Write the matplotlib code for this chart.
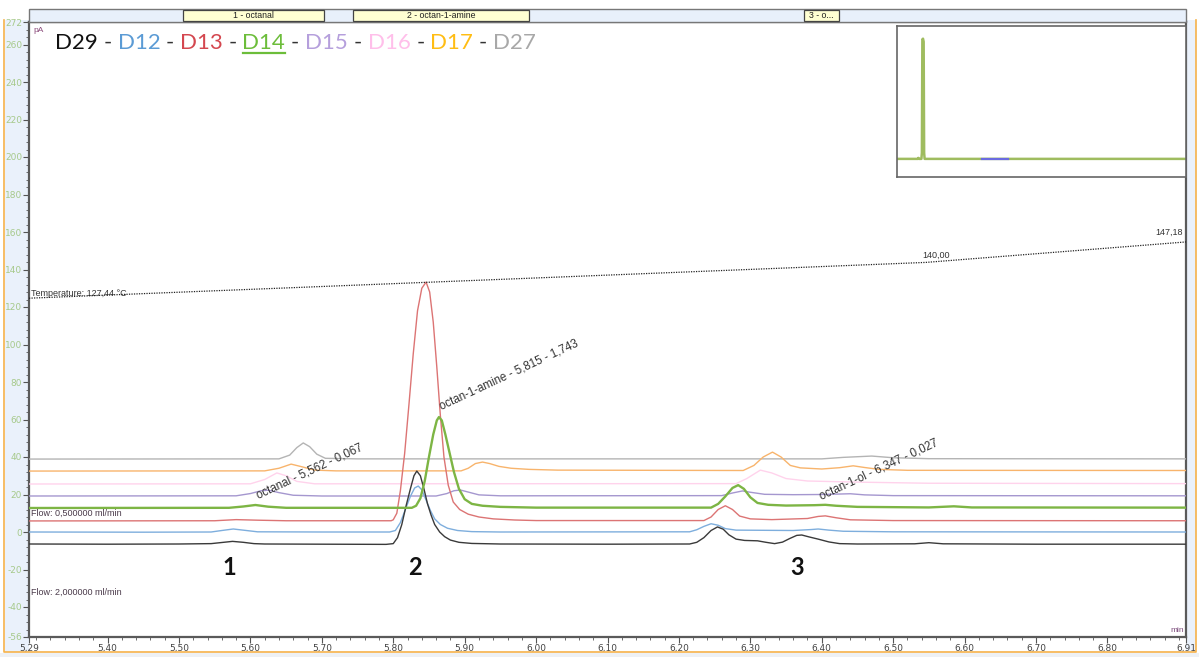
import numpy as np
import matplotlib
matplotlib.use("Agg")
import matplotlib.pyplot as plt
import matplotlib.transforms as mtrans
from matplotlib.ticker import MultipleLocator, FixedLocator, FuncFormatter
from matplotlib.patches import Rectangle
from matplotlib.lines import Line2D

# trace data: (time [min], signal [pA])
d29 = [(5.29, -6.4), (5.40, -6.5), (5.50, -6.4), (5.545, -6.2), (5.560, -5.6), (5.575, -5.0), (5.590, -5.5),
       (5.605, -6.2), (5.62, -6.4), (5.70, -6.5), (5.79, -6.6), (5.800, -6.2), (5.806, -3), (5.812, 4),
       (5.818, 14), (5.824, 23), (5.829, 30), (5.833, 32.5), (5.838, 30), (5.843, 23), (5.848, 15),
       (5.853, 9), (5.858, 4), (5.865, 0), (5.872, -2.5), (5.880, -4.3), (5.892, -5.5), (5.91, -6.1),
       (5.95, -6.4), (6.10, -6.5), (6.215, -6.4), (6.225, -5.5), (6.235, -3), (6.245, 0.8), (6.254, 2.7),
       (6.262, 1.5), (6.270, -1.5), (6.280, -3.8), (6.292, -4.5), (6.31, -4.7), (6.322, -5.5),
       (6.334, -6.2), (6.345, -5.4), (6.355, -3.5), (6.365, -1.8), (6.372, -1.6), (6.382, -2.6),
       (6.395, -3.8), (6.410, -5.3), (6.425, -6.2), (6.45, -6.4), (6.53, -6.3), (6.55, -5.7),
       (6.57, -6.3), (6.70, -6.5), (6.91, -6.5)]
d12 = [(5.29, 0), (5.45, -0.1), (5.545, 0), (5.560, 0.8), (5.576, 1.6), (5.592, 0.9), (5.61, 0.1),
       (5.70, 0), (5.795, 0), (5.803, 0.8), (5.810, 5), (5.817, 12), (5.824, 19), (5.830, 23.5),
       (5.835, 24.5), (5.840, 22.5), (5.846, 17), (5.852, 11.5), (5.858, 7), (5.866, 4), (5.876, 2),
       (5.89, 0.8), (5.91, 0.2), (5.95, 0), (6.215, 0.1), (6.225, 1.2), (6.235, 3), (6.245, 4.4),
       (6.255, 3.6), (6.265, 1.8), (6.28, 1.0), (6.32, 0.9), (6.36, 0.8), (6.385, 1.3), (6.395, 1.6),
       (6.41, 1.0), (6.43, 0.4), (6.50, 0.1), (6.91, 0)]
d13 = [(5.29, 5.9), (5.55, 6.0), (5.58, 6.6), (5.61, 6.3), (5.65, 6.0), (5.797, 6.0), (5.800, 6.5),
       (5.805, 10), (5.810, 22), (5.816, 42), (5.822, 68), (5.828, 95), (5.834, 118), (5.840, 130),
       (5.846, 133.3), (5.851, 128), (5.856, 112), (5.861, 88), (5.866, 62), (5.871, 40), (5.877, 25),
       (5.884, 16), (5.893, 12), (5.905, 9.5), (5.92, 8), (5.94, 7), (5.97, 6.4), (6.00, 6.1),
       (6.235, 6.1), (6.245, 8), (6.255, 12), (6.265, 14), (6.275, 12), (6.285, 8.5), (6.30, 7.0),
       (6.33, 6.6), (6.38, 7.2), (6.395, 8.3), (6.405, 8.6), (6.42, 7.6), (6.44, 6.5), (6.50, 6.1),
       (6.91, 6.0)]
d14 = [(5.29, 12.8), (5.57, 12.9), (5.59, 13.6), (5.607, 14.4), (5.625, 13.5), (5.65, 12.9),
       (5.826, 12.9), (5.832, 14), (5.838, 18), (5.844, 27), (5.850, 40), (5.856, 52), (5.861, 59.5),
       (5.864, 61.3), (5.868, 59.5), (5.873, 52), (5.879, 42), (5.885, 32), (5.892, 23), (5.900, 17.5),
       (5.910, 15), (5.925, 14), (5.95, 13.4), (6.00, 13), (6.245, 13), (6.255, 15), (6.265, 19),
       (6.275, 23.5), (6.283, 25), (6.291, 23), (6.300, 18.5), (6.31, 15.5), (6.325, 14.5), (6.35, 14.1),
       (6.39, 14.3), (6.405, 14.5), (6.42, 14.0), (6.45, 13.4), (6.55, 13.1), (6.585, 13.7),
       (6.61, 13.1), (6.91, 13)]
d15 = [(5.29, 19.2), (5.58, 19.3), (5.60, 20.5), (5.615, 22), (5.625, 22.3), (5.64, 21), (5.66, 19.6),
       (5.70, 19.2), (5.86, 19.2), (5.875, 20.5), (5.885, 22), (5.894, 22.4), (5.905, 21.3), (5.92, 19.8),
       (5.95, 19.3), (6.26, 19.4), (6.275, 20.8), (6.289, 21.9), (6.30, 21.2), (6.32, 20.1), (6.36, 19.9),
       (6.40, 20.0), (6.44, 20.4), (6.46, 19.8), (6.50, 19.4), (6.91, 19.3)]
d16 = [(5.29, 25.6), (5.60, 25.7), (5.62, 28), (5.637, 31.5), (5.65, 30), (5.665, 27), (5.69, 25.7),
       (6.28, 25.8), (6.295, 28.5), (6.314, 33), (6.33, 31.5), (6.35, 28.5), (6.38, 27.2), (6.45, 26.6),
       (6.55, 26.0), (6.91, 25.8)]
d17 = [(5.29, 32.5), (5.62, 32.6), (5.64, 34), (5.657, 36.2), (5.672, 34.8), (5.69, 33), (5.72, 32.6),
       (5.895, 32.6), (5.905, 34), (5.915, 36.5), (5.925, 37.3), (5.935, 36.5), (5.948, 35), (5.965, 34),
       (5.99, 33.4), (6.03, 33.0), (6.29, 32.8), (6.305, 35.5), (6.318, 40), (6.331, 42.6), (6.343, 40),
       (6.356, 35.5), (6.37, 34.2), (6.40, 33.6), (6.425, 34.3), (6.444, 35.3), (6.46, 34.4),
       (6.48, 33.4), (6.52, 32.9), (6.91, 32.8)]
d27 = [(5.29, 38.9), (5.64, 39.0), (5.655, 41), (5.665, 45), (5.674, 47.5), (5.683, 45.5), (5.693, 41.5),
       (5.705, 39.3), (5.75, 39.0), (6.40, 39.0), (6.43, 39.8), (6.47, 40.5), (6.50, 39.6), (6.55, 39.1),
       (6.91, 39.0)]

trace_names = ["D29", "D12", "D13", "D14", "D15", "D16", "D17", "D27"]
traces = [d29, d12, d13, d14, d15, d16, d17, d27]
line_colors = ["#3a3a3a", "#7eaedd", "#dc7474", "#7db544", "#a597cf", "#ffd3ec", "#f8b46c", "#b4b4b4"]
text_colors = ["#111111", "#5b9bd5", "#d4474f", "#6cbd3a", "#b59fdc", "#ffbfea", "#ffbd14", "#a8a8a8"]

# temperature program (°C)
temp_time = [5.29, 6.546, 6.91]
temp_c = [127.44, 140.00, 147.18]

peak_labels = ["octanal - 5,562 - 0,067", "octan-1-amine - 5,815 - 1,743", "octan-1-ol - 6,347 - 0,027"]
peak_label_pos = [(5.611, 18.0), (5.868, 65.0), (6.40, 17.0)]
peak_numbers = ["1", "2", "3"]
peak_number_time = [5.570, 5.831, 6.366]

header_labels = ["1 - octanal", "2 - octan-1-amine", "3 - o..."]
header_spans = [(5.506, 5.703), (5.744, 5.990), (6.375, 6.424)]

x_major = [5.29, 5.40, 5.50, 5.60, 5.70, 5.80, 5.90, 6.00, 6.10, 6.20, 6.30, 6.40, 6.50, 6.60, 6.70, 6.80, 6.91]
y_major = [272, 260, 240, 220, 200, 180, 160, 140, 120, 100, 80, 60, 40, 20, 0, -20, -40, -56]

# overview thumbnail (full run)
overview = [(0, 0), (1.30, 0), (1.33, 0.8), (1.36, 0), (1.52, 0), (1.55, 5), (1.58, 99), (1.62, 99.5),
            (1.66, 97), (1.69, 5), (1.72, 0), (18, 0)]
view_window = [5.29, 6.91]

W, H = 1199, 657
fig = plt.figure(figsize=(W / 100, H / 100), dpi=100)


def fx(px):
    return px / W


def fy(py):
    return 1 - py / H


# window decoration
fig.add_artist(Rectangle((fx(5), fy(652)), fx(1191), fy(20) - fy(652), transform=fig.transFigure,
                         facecolor="#eaf1fb", edgecolor="none", zorder=-5))
fig.add_artist(Rectangle((fx(29), fy(652)), fx(1157), fy(22) - fy(652), transform=fig.transFigure,
                         facecolor="white", edgecolor="none", zorder=-4))
fig.add_artist(Rectangle((0, 0), 1, fy(653), transform=fig.transFigure,
                         facecolor="#eef1f5", edgecolor="none", zorder=-5))
fig.add_artist(Line2D([fx(4), fx(4), fx(1196), fx(1196)], [fy(20), fy(652), fy(652), fy(20)],
                      transform=fig.transFigure, color="#f6b24a", lw=1.2))

ax = fig.add_axes([fx(29), fy(637), fx(1186) - fx(29), fy(22) - fy(637)])
ax.set_xlim(5.29, 6.91)
ax.set_ylim(-56, 272)

order = [7, 6, 5, 4, 2, 1, 0, 3]
for i in order:
    t, v = np.array(traces[i]).T
    lw = 1.7 if trace_names[i] == "D14" else 1.0
    ax.plot(t, v, color=line_colors[i], lw=lw, zorder=3 + order.index(i), solid_joinstyle="round")

ax.xaxis.set_major_locator(FixedLocator(x_major))
ax.xaxis.set_minor_locator(MultipleLocator(0.02))
ax.yaxis.set_major_locator(FixedLocator(y_major))
ax.yaxis.set_minor_locator(MultipleLocator(4))
ax.xaxis.set_major_formatter(FuncFormatter(lambda v, p: f"{v:.2f}".replace(".", ",")))
ax.yaxis.set_major_formatter(FuncFormatter(lambda v, p: f"{v:.0f}"))
ax.tick_params(axis="x", which="major", length=4, width=0.8, color="#555", labelcolor="#444",
               labelsize=6.5, pad=1)
ax.tick_params(axis="x", which="minor", length=2, width=0.6, color="#555")
ax.tick_params(axis="y", which="major", length=4, width=0.8, color="#555", labelcolor="#a6c98a",
               labelsize=6.5, pad=1)
ax.tick_params(axis="y", which="minor", length=2, width=0.6, color="#555")
for s in ax.spines.values():
    s.set_color("#5a5a5a")
    s.set_linewidth(1.6)

# temperature on its own scale
tax = ax.twinx()
tax.set_ylim(8.56, 224.35)
tax.axis("off")
tax.plot(temp_time, temp_c, color="#222", lw=0.9, ls=(0, (1, 1)))
tax.text(6.56, 141.0, "140,00", fontsize=6.5, color="#333", ha="center", va="bottom", family="Liberation Sans")
tax.text(6.905, 149.0, "147,18", fontsize=6.5, color="#333", ha="right", va="bottom", family="Liberation Sans")
ax.text(5.2925, 127.4, "Temperature: 127,44 °C", fontsize=6.5, color="#333", va="center",
        family="Liberation Sans", zorder=20)

ax.text(5.2925, 10.1, "Flow: 0,500000 ml/min", fontsize=6.5, color="#4a3a4a", va="center",
        family="Liberation Sans", zorder=20)
ax.text(5.2925, -32.0, "Flow: 2,000000 ml/min", fontsize=6.5, color="#4a3a4a", va="center",
        family="Liberation Sans", zorder=20)

for lab, (t, v) in zip(peak_labels, peak_label_pos):
    ax.text(t, v, lab, fontsize=8.3, color="#333", rotation=25, rotation_mode="anchor",
            ha="left", va="baseline", family="Liberation Sans", zorder=20)

for num, t in zip(peak_numbers, peak_number_time):
    ax.text(t, -18.7, num, fontsize=17, fontweight="bold", color="#111", ha="center", va="center",
            family="Lato", zorder=20)

fig.text(fx(33), fy(30), "pA", fontsize=6, color="#8a4a7a", va="center", family="Liberation Sans")
fig.text(fx(1184), fy(630), "min", fontsize=6, color="#7a4a7a", ha="right", va="center",
         family="Liberation Sans")

# header band with peak windows
blend = mtrans.blended_transform_factory(ax.transData, fig.transFigure)
fig.add_artist(Rectangle((fx(29), fy(22)), fx(1157), fy(9) - fy(22), transform=fig.transFigure,
                         facecolor="#e8f0fb", edgecolor="#777", lw=1.0))
for lab, (a, b) in zip(header_labels, header_spans):
    fig.add_artist(Rectangle((a, fy(21)), b - a, fy(10) - fy(21), transform=blend,
                             facecolor="#ffffd2", edgecolor="#444", lw=0.9, zorder=5))
    fig.text((a + b) / 2, fy(15.5), lab, transform=blend, fontsize=6.3, color="#222", ha="center",
             va="center", family="Liberation Sans", zorder=6)

# legend text, one coloured piece per trace
fig.canvas.draw()
r = fig.canvas.get_renderer()
leg_x0, leg_y = fx(55), fy(43)
leg_kw = dict(fontsize=16, family="Lato", va="center")


def prefix_width(s):
    tmp = fig.text(leg_x0, leg_y, s, **leg_kw)
    w = tmp.get_window_extent(r).width
    tmp.remove()
    return w / W


for i, name in enumerate(trace_names):
    xr = leg_x0 + prefix_width(" - ".join(trace_names[:i + 1]))
    t = fig.text(xr, leg_y, name, color=text_colors[i], ha="right", **leg_kw)
    if name == "D14":
        bb = t.get_window_extent(r)
        fig.add_artist(Line2D([bb.x0 / W, bb.x1 / W], [fy(53), fy(53)], color=text_colors[i], lw=1.6))
    if i < len(trace_names) - 1:
        xh = leg_x0 + prefix_width(" - ".join(trace_names[:i + 1]) + " -")
        fig.text(xh, leg_y, "-", color="#333", ha="right", **leg_kw)

# overview thumbnail
ins = fig.add_axes([fx(897), fy(177), fx(1186) - fx(897), fy(26) - fy(177)])
ot, ov = np.array(overview).T
ins.plot(ot, ov, color="#9fbc5f", lw=1.8)
ins.plot(view_window, [0, 0], color="#6a6ae0", lw=1.6)
ins.set_xlim(0, 18)
ins.set_ylim(-15, 110)
ins.set_xticks([])
ins.set_yticks([])
for s in ins.spines.values():
    s.set_color("#666")
    s.set_linewidth(1.2)

fig.savefig("out.png", dpi=100)
